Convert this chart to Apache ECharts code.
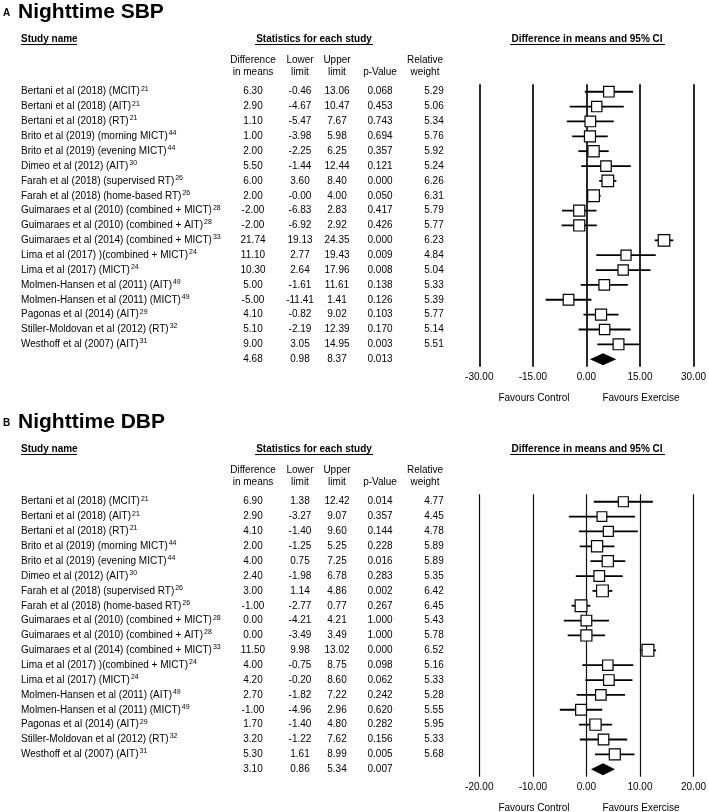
<!DOCTYPE html>
<html>
<head>
<meta charset="utf-8">
<script src="https://cdn.jsdelivr.net/npm/echarts@6/dist/echarts.min.js"></script>
<style>
  html, body { margin: 0; padding: 0; background: #fff; }
  #chart { width: 709px; height: 812px; }
</style>
</head>
<body>
<div id="chart"></div>
<script>
// study labels (shared by both panels), last row is the pooled estimate
const studyNames = [
  'Bertani et al (2018) (MCIT)', 'Bertani et al (2018) (AIT)', 'Bertani et al (2018) (RT)',
  'Brito et al (2019) (morning MICT)', 'Brito et al (2019) (evening MICT)', 'Dimeo et al (2012) (AIT)',
  'Farah et al (2018) (supervised RT)', 'Farah et al (2018) (home-based RT)',
  'Guimaraes et al (2010) (combined + MICT)', 'Guimaraes et al (2010) (combined + AIT)',
  'Guimaraes et al (2014) (combined + MICT)', 'Lima et al (2017) )(combined + MICT)', 'Lima et al (2017) (MICT)',
  'Molmen-Hansen et al (2011) (AIT)', 'Molmen-Hansen et al (2011) (MICT)', 'Pagonas et al (2014) (AIT)',
  'Stiller-Moldovan et al (2012) (RT)', 'Westhoff et al (2007) (AIT)', ''
]
const studyRefs = ['21', '21', '21', '44', '44', '30', '26', '26', '28', '28', '33', '24', '24', '49', '49', '29', '32', '31', '']

// A: nighttime SBP
const sbpDiff = [6.30, 2.90, 1.10, 1.00, 2.00, 5.50, 6.00, 2.00, -2.00, -2.00, 21.74, 11.10, 10.30, 5.00, -5.00, 4.10, 5.10, 9.00, 4.68]
const sbpLower = [-0.46, -4.67, -5.47, -3.98, -2.25, -1.44, 3.60, -0.00, -6.83, -6.92, 19.13, 2.77, 2.64, -1.61, -11.41, -0.82, -2.19, 3.05, 0.98]
const sbpUpper = [13.06, 10.47, 7.67, 5.98, 6.25, 12.44, 8.40, 4.00, 2.83, 2.92, 24.35, 19.43, 17.96, 11.61, 1.41, 9.02, 12.39, 14.95, 8.37]
const sbpP = ['0.068', '0.453', '0.743', '0.694', '0.357', '0.121', '0.000', '0.050', '0.417', '0.426', '0.000', '0.009', '0.008', '0.138', '0.126', '0.103', '0.170', '0.003', '0.013']
const sbpWeight = [5.29, 5.06, 5.34, 5.76, 5.92, 5.24, 6.26, 6.31, 5.79, 5.77, 6.23, 4.84, 5.04, 5.33, 5.39, 5.77, 5.14, 5.51]
const sbpTicks = { min: -30, max: 30, interval: 15 }

// B: nighttime DBP
const dbpDiff = [6.90, 2.90, 4.10, 2.00, 4.00, 2.40, 3.00, -1.00, 0.00, 0.00, 11.50, 4.00, 4.20, 2.70, -1.00, 1.70, 3.20, 5.30, 3.10]
const dbpLower = [1.38, -3.27, -1.40, -1.25, 0.75, -1.98, 1.14, -2.77, -4.21, -3.49, 9.98, -0.75, -0.20, -1.82, -4.96, -1.40, -1.22, 1.61, 0.86]
const dbpUpper = [12.42, 9.07, 9.60, 5.25, 7.25, 6.78, 4.86, 0.77, 4.21, 3.49, 13.02, 8.75, 8.60, 7.22, 2.96, 4.80, 7.62, 8.99, 5.34]
const dbpP = ['0.014', '0.357', '0.144', '0.228', '0.016', '0.283', '0.002', '0.267', '1.000', '1.000', '0.000', '0.098', '0.062', '0.242', '0.620', '0.282', '0.156', '0.005', '0.007']
const dbpWeight = [4.77, 4.45, 4.78, 5.89, 5.89, 5.35, 6.42, 6.45, 5.43, 5.78, 6.52, 5.16, 5.33, 5.28, 5.55, 5.95, 5.33, 5.68]
const dbpTicks = { min: -20, max: 20, interval: 10 }

const FONT = 'Arial, "Liberation Sans", sans-serif'
const GRID_LEFT = 479.3
const GRID_W = 215.7
const ROW_H = 14.86
const N_ROWS = 19
const PANEL_TOP = [84.3, 494.3]
const COL_X = { name: 21, diff: 253, lower: 300, upper: 337, p: 380, weight: 434 }

const fmt = v => (Object.is(v, -0) ? '-' : '') + v.toFixed(2)

const chart = echarts.init(document.getElementById('chart'))

const forestItem = (params, api) => {
  const row = api.value(4)
  const y = api.coord([0, row])[1]
  const xm = api.coord([api.value(0), row])[0]
  const xl = api.coord([api.value(1), row])[0]
  const xu = api.coord([api.value(2), row])[0]
  const s = 5 + api.value(3) * 1.05
  return {
    type: 'group',
    children: [
      { type: 'line', shape: { x1: xl, y1: y, x2: xu, y2: y }, style: { stroke: '#000', lineWidth: 1.8 } },
      { type: 'rect', shape: { x: xm - s / 2, y: y - s / 2, width: s, height: s }, style: { fill: '#fff', stroke: '#000', lineWidth: 1.2 } }
    ]
  }
}

const diamondItem = (params, api) => {
  const row = api.value(3)
  const y = api.coord([0, row])[1]
  const xm = api.coord([api.value(0), row])[0]
  const xl = api.coord([api.value(1), row])[0]
  const xu = api.coord([api.value(2), row])[0]
  return {
    type: 'polygon',
    shape: { points: [[xl, y], [xm, y - 6], [xu, y], [xm, y + 6]] },
    style: { fill: '#000' }
  }
}

const panels = [
  { letter: 'A', title: 'Nighttime SBP', diff: sbpDiff, lower: sbpLower, upper: sbpUpper, p: sbpP, weight: sbpWeight, ticks: sbpTicks, lineW: 1.8 },
  { letter: 'B', title: 'Nighttime DBP', diff: dbpDiff, lower: dbpLower, upper: dbpUpper, p: dbpP, weight: dbpWeight, ticks: dbpTicks, lineW: 1.2 }
]

const grid = []
const xAxis = []
const yAxis = []
const series = []
const graphic = []

const txt = (x, y, text, opts = {}) => ({
  type: 'text', x, y, silent: true,
  style: Object.assign({ text, fill: '#000', font: `10px ${FONT}`, align: 'left', verticalAlign: 'middle' }, opts)
})
const uline = (x1, x2, y) => ({
  type: 'line', silent: true, shape: { x1, y1: y, x2, y2: y }, style: { stroke: '#000', lineWidth: 1 }
})

panels.forEach((pn, gi) => {
  const top = PANEL_TOP[gi]
  const dy = gi * 410
  grid.push({ left: GRID_LEFT, top, width: GRID_W, height: ROW_H * N_ROWS })

  xAxis.push({
    type: 'value', gridIndex: gi,
    min: pn.ticks.min, max: pn.ticks.max, interval: pn.ticks.interval,
    axisLine: { show: false }, axisTick: { show: false },
    axisLabel: { color: '#000', fontSize: 10, fontFamily: FONT, margin: 6, formatter: v => v.toFixed(2) },
    splitLine: { show: true, lineStyle: { color: '#111', width: pn.lineW } }
  })

  const rows = studyNames.map((_, i) => i)
  const colAxis = (data, x, extra = {}) => ({
    type: 'category', gridIndex: gi, inverse: true, data,
    position: 'left',
    axisLine: { show: false }, axisTick: { show: false }, splitLine: { show: false },
    axisLabel: Object.assign({
      interval: 0, margin: GRID_LEFT - x, align: 'center',
      color: '#000', fontSize: 10, fontFamily: FONT
    }, extra)
  })

  // study names with reference superscripts
  yAxis.push(colAxis(rows, COL_X.name, {
    align: 'left',
    formatter: (v, i) => studyNames[i] ? `{n|${studyNames[i]}}{s|${studyRefs[i]}}` : '',
    rich: {
      n: { fontSize: 10, fontFamily: FONT, color: '#000' },
      s: { fontSize: 7, fontFamily: FONT, color: '#000', verticalAlign: 'bottom', padding: [0, 0, 6, 1] }
    }
  }))
  yAxis.push(colAxis(pn.diff.map(fmt), COL_X.diff))
  yAxis.push(colAxis(pn.lower.map(fmt), COL_X.lower))
  yAxis.push(colAxis(pn.upper.map(fmt), COL_X.upper))
  yAxis.push(colAxis(pn.p, COL_X.p))
  yAxis.push(colAxis(pn.weight.map(fmt).concat(['']), COL_X.weight))

  const yIdx = gi * 6
  const n = pn.weight.length
  series.push({
    type: 'custom', xAxisIndex: gi, yAxisIndex: yIdx, clip: false,
    renderItem: forestItem,
    encode: { x: [0, 1, 2], y: 4 },
    data: pn.weight.map((w, i) => [pn.diff[i], pn.lower[i], pn.upper[i], w, i])
  })
  series.push({
    type: 'custom', xAxisIndex: gi, yAxisIndex: yIdx, clip: false,
    renderItem: diamondItem,
    encode: { x: [0, 1, 2], y: 3 },
    data: [[pn.diff[n], pn.lower[n], pn.upper[n], n]]
  })

  // titles and headers
  graphic.push(txt(3, 13 + dy, pn.letter, { font: `bold 10px ${FONT}` }))
  graphic.push(txt(18, 12 + dy, pn.title, { font: `bold 21px ${FONT}` }))
  graphic.push(txt(21, 39 + dy, 'Study name', { font: `bold 10px ${FONT}` }))
  graphic.push(uline(21, 77, 44.5 + dy))
  graphic.push(txt(314, 39 + dy, 'Statistics for each study', { font: `bold 10px ${FONT}`, align: 'center' }))
  graphic.push(uline(255, 373, 44.5 + dy))
  graphic.push(txt(587, 39 + dy, 'Difference in means and 95% CI', { font: `bold 10px ${FONT}`, align: 'center' }))
  graphic.push(uline(510, 665, 44.5 + dy))
  const hdr = { align: 'center', lineHeight: 12 }
  graphic.push(txt(COL_X.diff, 66 + dy, 'Difference\nin means', hdr))
  graphic.push(txt(COL_X.lower, 66 + dy, 'Lower\nlimit', hdr))
  graphic.push(txt(COL_X.upper, 66 + dy, 'Upper\nlimit', hdr))
  graphic.push(txt(COL_X.p, 72 + dy, 'p-Value', { align: 'center' }))
  graphic.push(txt(425, 66 + dy, 'Relative\nweight', hdr))
  graphic.push(txt(534, 398 + dy, 'Favours Control', { align: 'center' }))
  graphic.push(txt(641, 398 + dy, 'Favours Exercise', { align: 'center' }))
})

chart.setOption({
  animation: false,
  backgroundColor: '#fff',
  grid, xAxis, yAxis, series, graphic
})
</script>
</body>
</html>
